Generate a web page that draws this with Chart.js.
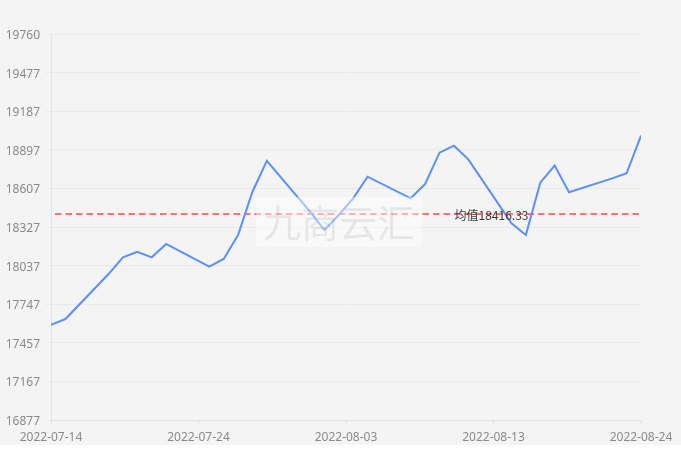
<!DOCTYPE html>
<html><head><meta charset="utf-8">
<script src="https://cdn.jsdelivr.net/npm/chart.js@4/dist/chart.umd.min.js"></script>
<style>
html,body{margin:0;padding:0;background:#fff;}
#wrap{width:681px;height:445px;background:#f4f4f4;}
canvas{display:block;}
</style></head><body>
<div id="wrap"><canvas id="c" width="681" height="445"></canvas></div>
<script>
// ---- data ----
const dates = ['2022-07-14','2022-07-15','2022-07-18','2022-07-19','2022-07-20','2022-07-21','2022-07-22',
  '2022-07-25','2022-07-26','2022-07-27','2022-07-28','2022-07-29',
  '2022-08-01','2022-08-02','2022-08-03','2022-08-04','2022-08-05',
  '2022-08-08','2022-08-09','2022-08-10','2022-08-11','2022-08-12',
  '2022-08-15','2022-08-16','2022-08-17','2022-08-18','2022-08-19',
  '2022-08-22','2022-08-23','2022-08-24'];
const values = [17587,17631,17967,18092,18134,18092,18192,
  18022,18080,18259,18582,18812,
  18434,18296,18408,18533,18694,
  18533,18640,18874,18926,18824,
  18346,18259,18650,18777,18578,
  18682,18720,19001];
const yTickLabels = ['16877','17167','17457','17747','18037','18327','18607','18897','19187','19477','19760'];
const xTickCount = 5;
const meanValue = 18416.33;
const meanLabel = '均值18416.33';
const watermarkText = '九商云汇';

// ---- helpers ----
const DAY = 86400000;
function toUTC(s){const p=s.split('-').map(Number);return Date.UTC(p[0],p[1]-1,p[2]);}
const t0 = toUTC(dates[0]);
const dayOf = s => Math.round((toUTC(s)-t0)/DAY);
const lastDay = dayOf(dates[dates.length-1]);
function fmt(day){const d=new Date(t0+day*DAY);const m=String(d.getUTCMonth()+1).padStart(2,'0');const dd=String(d.getUTCDate()).padStart(2,'0');return d.getUTCFullYear()+'-'+m+'-'+dd;}
const yMin = Number(yTickLabels[0]), yMax = Number(yTickLabels[yTickLabels.length-1]);

const overlay = {
  id:'overlay',
  afterDatasetsDraw(chart){
    const ctx = chart.ctx, ca = chart.chartArea, ys = chart.scales.y;
    // mean label
    ctx.save();
    ctx.font = '12px "Noto Sans CJK SC", "Noto Sans", sans-serif';
    ctx.fillStyle = '#3a3a3a';
    ctx.textAlign = 'center';
    ctx.textBaseline = 'middle';
    ctx.fillText(meanLabel, ca.left + 0.75*(ca.right-ca.left) - 2, ys.getPixelForValue(meanValue) + 2);
    // watermark
    const cx = chart.width/2 - 1.5, cy = 222;
    ctx.fillStyle = 'rgba(255,255,255,0.45)';
    ctx.fillRect(cx-83, cy-25, 166, 50);
    ctx.font = '38px "Noto Sans CJK SC", sans-serif';
    ctx.fillStyle = 'rgba(0,0,0,0.075)';
    ctx.fillText(watermarkText, cx, cy+1);
    ctx.restore();
  }
};

new Chart(document.getElementById('c'), {
  type:'line',
  data:{
    datasets:[
      {
        data: dates.map((d,i)=>({x:dayOf(d), y:values[i]})),
        borderColor:'#5b8ff9', borderWidth:2, pointRadius:0, tension:0, fill:false
      },
      {
        data:[{x:0,y:meanValue},{x:lastDay,y:meanValue}],
        borderColor:'#fb7171', borderWidth:2, borderDash:[6.5,4], borderDashOffset:6.5,
        pointRadius:0, fill:false
      }
    ]
  },
  options:{
    responsive:false, animation:false, devicePixelRatio:1,
    layout:{padding:{top:34,right:40,left:0,bottom:0}},
    plugins:{legend:{display:false}, tooltip:{enabled:false}},
    scales:{
      x:{
        type:'linear', min:0, max:lastDay,
        afterBuildTicks(s){const t=[];for(let i=0;i<xTickCount;i++)t.push({value:i*lastDay/(xTickCount-1)});s.ticks=t;},
        afterFit(s){s.height=25;},
        grid:{drawOnChartArea:false, drawTicks:true, tickLength:5, color:'#e0e0e0'},
        border:{color:'#e0e0e0'},
        ticks:{autoSkip:false, maxRotation:0, padding:5, color:'#8a8a8a',
          font:{family:'"Noto Sans", sans-serif', size:12},
          callback:(v)=>fmt(Math.floor(v+1e-9))}
      },
      y:{
        type:'linear', min:yMin, max:yMax,
        afterBuildTicks(s){s.ticks=yTickLabels.map((_,i)=>({value:yMin+i*(yMax-yMin)/(yTickLabels.length-1)}));},
        afterFit(s){s.width=51;},
        grid:{color:'#eaeaea', tickLength:5},
        border:{color:'#e3e3e3'},
        ticks:{autoSkip:false, padding:6, labelOffset:1.5, color:'#8a8a8a',
          font:{family:'"Noto Sans", sans-serif', size:12},
          callback:(v,i)=>yTickLabels[i]}
      }
    }
  },
  plugins:[overlay]
});
</script>
</body></html>
